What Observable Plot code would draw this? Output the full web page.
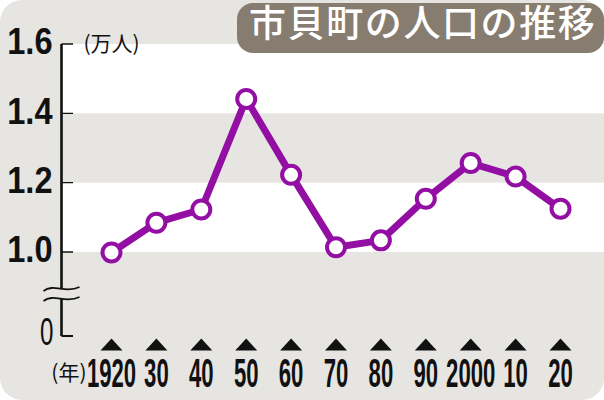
<!DOCTYPE html>
<html><head><meta charset="utf-8">
<script src="https://cdn.jsdelivr.net/npm/d3@7"></script>
<script src="https://cdn.jsdelivr.net/npm/@observablehq/plot@0.6"></script>
<style>
html,body{margin:0;padding:0;background:#fff;}
#wrap{position:relative;width:604px;height:400px;}
#wrap svg{display:block;}
#title{position:absolute;z-index:2;left:237px;top:3px;width:367px;height:50px;background:#877c70;border-radius:16px;color:#fff;font-family:"Noto Sans CJK JP",sans-serif;font-weight:500;font-size:37px;line-height:37px;letter-spacing:1.6px;box-sizing:border-box;padding-left:12px;white-space:nowrap;}
</style></head><body>
<div id="wrap"><div id="title">市貝町の人口の推移</div></div>
<script>
// ---- data ----
const years = [1920, 1930, 1940, 1950, 1960, 1970, 1980, 1990, 2000, 2010, 2020];
const population = [1.00, 1.086, 1.124, 1.443, 1.224, 1.015, 1.035, 1.155, 1.258, 1.219, 1.126]; // 万人
const xLabels = ["1920", "30", "40", "50", "60", "70", "80", "90", "2000", "10", "20"];
const yTicks = [0, 1.0, 1.2, 1.4, 1.6];
const yLabels = ["0", "1.0", "1.2", "1.4", "1.6"];
const bandLows = [1.0, 1.4];
const bandHighs = [1.2, 1.6];
const yUnit = "(万人)";
const xUnit = "(年)";

const rows = years.map((y, i) => ({year: y, pop: population[i], label: xLabels[i]}));
const bands = bandLows.map((lo, i) => ({lo, hi: bandHighs[i]}));
const ticks = yTicks.map((t, i) => ({t, label: yLabels[i]}));

const purple = "#930fa3";
const bg = "#e6e5e1";

const flatTriangle = {
  draw(context, size) {
    const r = Math.sqrt(size / Math.PI);
    context.moveTo(0, -0.75 * r);
    context.lineTo(1.375 * r, 0.75 * r);
    context.lineTo(-1.375 * r, 0.75 * r);
    context.closePath();
  }
};

function axisDecor(index, scales, values, dimensions) {
  const g = d3.create("svg:g");
  const x0 = dimensions.marginLeft - 0.5;
  const yTop = scales.y(d3.max(yTicks));
  const yBot = scales.y(d3.min(yTicks));
  g.append("line").attr("x1", x0).attr("x2", x0).attr("y1", yTop).attr("y2", yBot)
    .attr("stroke", "#111").attr("stroke-width", 2.6);
  for (const t of yTicks) {
    const y = scales.y(t);
    g.append("line").attr("x1", x0).attr("x2", x0 + 11.5).attr("y1", y).attr("y2", y)
      .attr("stroke", "#111").attr("stroke-width", t === 0 ? 2.2 : 1.4);
  }
  // axis break between 0 and 1.0
  const yb = (scales.y(0) + scales.y(1.0)) / 2;
  const wave = (dy) => `M${x0 - 18},${yb + dy + 2} C${x0 - 8},${yb + dy - 6} ${x0 + 4},${yb + dy + 5} ${x0 + 18},${yb + dy - 2}`;
  g.append("path")
    .attr("d", `${wave(-5)} L${x0 + 18},${yb + 3} C${x0 + 4},${yb + 10} ${x0 - 8},${yb - 1} ${x0 - 18},${yb + 7} Z`)
    .attr("fill", bg);
  g.append("path").attr("d", wave(-5)).attr("fill", "none").attr("stroke", "#111").attr("stroke-width", 1.8);
  g.append("path").attr("d", wave(5)).attr("fill", "none").attr("stroke", "#111").attr("stroke-width", 1.8);
  return g.node();
}

const plot = Plot.plot({
  width: 604,
  height: 400,
  marginLeft: 62,
  marginRight: 0,
  marginTop: 44,
  marginBottom: 64,
  style: {background: bg, borderRadius: "22px", overflow: "hidden"},
  x: {type: "linear", domain: [1920, 2020], range: [111, 560], axis: null},
  y: {type: "linear", domain: [0, 1.0, 1.6], range: [336, 252, 44], axis: null},
  marks: [
    Plot.rect(bands, {y1: "lo", y2: "hi", fill: "#fff"}),
    axisDecor,
    Plot.text(ticks.filter(d => d.t > 0), {y: "t", text: "label", frameAnchor: "left", lineAnchor: "middle", textAnchor: "end", dx: -10, dy: -2,
      fontSize: 37, fontWeight: "bold", fontFamily: "Liberation Sans, Arial, sans-serif", fill: "#111"}),
    Plot.text(ticks.filter(d => d.t === 0), {y: "t", text: "label", frameAnchor: "left", lineAnchor: "middle", textAnchor: "end", dx: -9, dy: -4,
      fontSize: 39, fontWeight: "normal", fontFamily: "Liberation Sans, Arial, sans-serif", fill: "#111"}),
    Plot.text([yUnit], {text: d => d, frameAnchor: "top-left", lineAnchor: "middle", textAnchor: "start", dx: 21, dy: 0,
      fontSize: 21, fontFamily: "Noto Sans CJK JP, sans-serif", fill: "#111"}),
    Plot.text([xUnit], {text: d => d, frameAnchor: "bottom-left", lineAnchor: "middle", textAnchor: "end", dx: 24, dy: 37,
      fontSize: 21, fontFamily: "Noto Sans CJK JP, sans-serif", fill: "#111"}),
    Plot.dot(rows, {x: "year", frameAnchor: "bottom", dy: 8, r: 8, symbol: flatTriangle, fill: "#111", stroke: null}),
    Plot.text(rows, {x: "year", text: "label", frameAnchor: "bottom", lineAnchor: "middle", dy: 37, fontSize: 41, fontWeight: "bold",
      fontFamily: "Liberation Sans, Arial, sans-serif", fill: "#111"}),
    Plot.line(rows, {x: "year", y: "pop", stroke: purple, strokeWidth: 7, strokeLinejoin: "round"}),
    Plot.dot(rows, {x: "year", y: "pop", r: 9, fill: "#fff", stroke: purple, strokeWidth: 4})
  ]
});

// condense the numeric labels horizontally (narrow newspaper-style figures)
const condense = new Map([...xLabels.map(l => [l, 0.54]), ["1.0", 0.88], ["1.2", 0.88], ["1.4", 0.88], ["1.6", 0.88], ["0", 0.62]]);
d3.select(plot).selectAll("text").each(function () {
  const s = condense.get(this.textContent);
  if (s === undefined) return;
  const el = d3.select(this);
  let tr = el.attr("transform");
  if (!tr) {
    const x = +el.attr("x") || 0, y = +el.attr("y") || 0;
    el.attr("x", null).attr("y", null);
    tr = `translate(${x},${y})`;
  }
  el.attr("transform", `${tr} scale(${s},1)`);
});

document.getElementById("wrap").appendChild(plot);
</script>
</body></html>
